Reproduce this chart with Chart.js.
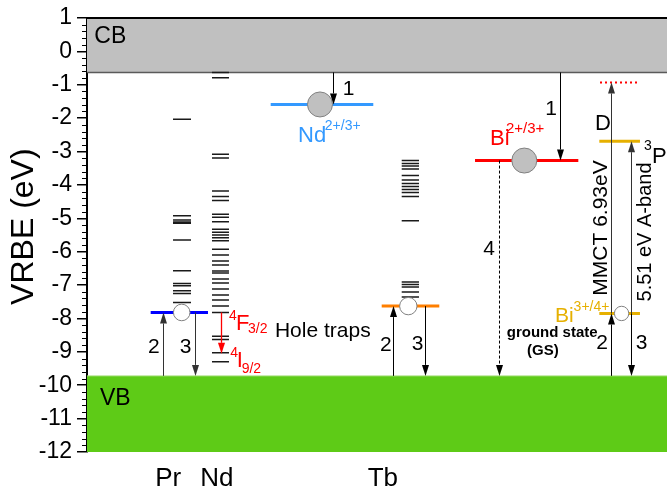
<!DOCTYPE html>
<html><head><meta charset="utf-8">
<script src="https://cdn.jsdelivr.net/npm/chart.js@4.4.0/dist/chart.umd.min.js"></script>
<style>html,body{margin:0;padding:0;background:#fff}canvas{display:block}</style>
</head><body>
<canvas id="c" width="667" height="491"></canvas>
<script>
const FONT = '"Liberation Sans", Arial, sans-serif';

// ---- data (eV) ----
const Y_MIN = -12, Y_MAX = 1;
const CB_BOTTOM = -0.63;
const VB_TOP = -9.72;

const xLabels = ['Pr', 'Nd', 'Tb'];
const xLabelPos = [14.0, 22.4, 51.0];

const prLevels = [-2.03, -4.92, -5.05, -5.11, -5.15, -5.65, -6.57, -6.95, -7.02, -7.17, -7.25, -7.52];
const ndLevels = [-0.63, -0.79, -3.08, -3.19, -4.18, -4.35, -4.47, -4.88, -4.97, -5.10, -5.33, -5.42,
                  -5.50, -5.58, -5.67, -5.93, -6.10, -6.28, -6.40, -6.58, -6.64, -6.82, -6.94, -7.12,
                  -7.30, -7.45, -7.63, -7.82, -8.53, -8.63, -9.03, -9.30];
const tbLevels = [-3.27, -3.36, -3.43, -3.52, -3.72, -3.85, -3.96, -4.05, -4.14, -4.23, -4.35, -5.07,
                  -6.91, -6.98, -7.06, -7.21, -7.36];

const prGround = -7.82;
const ndLevel23 = -1.59;
const tbGround = -7.63;
const biLevel23 = -3.27;
const biLevel34 = -7.85;
const bi3P1 = -2.69;
const biD = -0.93;
const nd4F32 = -7.82;
const nd4I92 = -9.06;

// ---- column placement on the (hidden) x scale ----
const X_MIN = 0, X_MAX = 100;
const cols = {
  prStack: [14.83, 17.93], ndStack: [21.55, 24.48], tbStack: [54.26, 57.24],
  prLine: [10.98, 20.86], ndLine: [31.67, 49.36], tbLine: [50.81, 60.74],
  biLine23: [66.9, 84.71], biLine34: [88.33, 95.34], dLine: [88.45, 95.17]
};

function stackData(levels, span) {
  const d = [];
  levels.forEach(v => { d.push({x: span[0], y: v}, {x: span[1], y: v}, {x: span[1], y: null}); });
  return d;
}
function seg(span, v) { return [{x: span[0], y: v}, {x: span[1], y: v}]; }

const arrows = [
  {x: 13.05, from: VB_TOP, to: prGround, color: '#333'},
  {x: 18.67, from: prGround, to: VB_TOP, color: '#333'},
  {x: 23.03, from: nd4F32, to: nd4I92, color: '#ff0000', w: 1.3},
  {x: 42.47, from: CB_BOTTOM, to: ndLevel23, color: '#000'},
  {x: 52.81, from: VB_TOP, to: tbGround, color: '#000'},
  {x: 58.28, from: tbGround, to: VB_TOP, color: '#000'},
  {x: 81.55, from: CB_BOTTOM, to: biLevel23, color: '#000'},
  {x: 71.03, from: biLevel23, to: VB_TOP, color: '#000', dash: [3, 2]},
  {x: 90.4, from: VB_TOP, to: biLevel34, color: '#000'},
  {x: 90.4, from: biLevel34, to: biD, color: '#333'},
  {x: 93.79, from: biLevel34, to: bi3P1, color: '#333'},
  {x: 93.79, from: biLevel34, to: VB_TOP, color: '#000'}
];

const texts = [
  {t: 'CB', x: 1.26, y: 0.25, size: 23},
  {t: 'VB', x: 2.24, y: -10.59, size: 23},
  {t: '1', x: 44.1, y: -1.31, size: 21},
  {t: '1', x: 79.0, y: -1.91, size: 21},
  {t: 'Nd', x: 36.4, y: -2.71, size: 22, color: '#3399ff'},
  {t: '2+/3+', x: 41.0, y: -2.36, size: 14, color: '#3399ff'},
  {t: 'Bi', x: 69.5, y: -2.80, size: 22, color: '#ff0000'},
  {t: '2+/3+', x: 72.24, y: -2.445, size: 15, color: '#ff0000'},
  {t: 'Bi', x: 80.69, y: -8.10, size: 21, color: '#e6b000'},
  {t: '3+/4+', x: 83.9, y: -7.77, size: 14, color: '#e6b000'},
  {t: '3', x: 96.03, y: -2.95, size: 14},
  {t: 'P', x: 97.41, y: -3.34, size: 22},
  {t: '1', x: 99.95, y: -3.55, size: 14},
  {t: 'D', x: 87.6, y: -2.36, size: 22},
  {t: '4', x: 68.3, y: -6.10, size: 21},
  {t: '2', x: 10.5, y: -9.03, size: 21},
  {t: '3', x: 16.0, y: -9.03, size: 21},
  {t: '2', x: 50.5, y: -8.97, size: 21},
  {t: '3', x: 56.0, y: -8.95, size: 21},
  {t: '2', x: 87.8, y: -8.90, size: 21},
  {t: '3', x: 94.6, y: -8.90, size: 21},
  {t: 'Hole traps', x: 32.4, y: -8.55, size: 21},
  {t: 'ground state', x: 80.2, y: -8.56, size: 15, bold: true, align: 'center'},
  {t: '(GS)', x: 78.6, y: -9.10, size: 15, bold: true, align: 'center'},
  {t: '4', x: 24.5, y: -8.05, size: 14, color: '#ff0000'},
  {t: 'F', x: 25.7, y: -8.35, size: 22, color: '#ff0000'},
  {t: '3/2', x: 27.76, y: -8.45, size: 14, color: '#ff0000'},
  {t: '4', x: 24.7, y: -9.15, size: 14, color: '#ff0000'},
  {t: 'I', x: 25.8, y: -9.45, size: 22, color: '#ff0000'},
  {t: '9/2', x: 26.67, y: -9.64, size: 14, color: '#ff0000'},
  {t: 'MMCT 6.93eV', x: 89.6, y: -5.29, size: 21, rot: true},
  {t: '5.51 eV A-band', x: 97.2, y: -5.41, size: 20, rot: true}
];
const yTitle = 'VRBE (eV)';

function drawArrow(ctx, px, y0, y1, color, w, dash) {
  const dir = Math.sign(y1 - y0), hl = 11, hw = 3.5;
  ctx.strokeStyle = color; ctx.fillStyle = color; ctx.lineWidth = w || 1;
  ctx.setLineDash(dash || []);
  ctx.beginPath(); ctx.moveTo(px, y0); ctx.lineTo(px, y1 - dir * hl); ctx.stroke();
  ctx.setLineDash([]);
  ctx.beginPath(); ctx.moveTo(px, y1); ctx.lineTo(px - hw, y1 - dir * hl); ctx.lineTo(px + hw, y1 - dir * hl);
  ctx.closePath(); ctx.fill();
}

const overlay = {
  id: 'overlay',
  afterDatasetsDraw(chart) {
    const {ctx, chartArea: a, scales: {x, y}} = chart;
    const X = v => x.getPixelForValue(v), Y = v => y.getPixelForValue(v);
    ctx.save();
    // top frame
    ctx.strokeStyle = '#000'; ctx.lineWidth = 2;
    ctx.beginPath(); ctx.moveTo(a.left - 1, a.top); ctx.lineTo(a.right, a.top); ctx.stroke();
    // minor ticks
    ctx.lineWidth = 1;
    for (let i = 0; i <= (Y_MAX - Y_MIN) * 5; i++) {
      if (i % 5 === 0) continue;
      const py = Math.round(Y(Y_MIN + i * 0.2)) + 0.5;
      ctx.beginPath(); ctx.moveTo(a.left - 5, py); ctx.lineTo(a.left, py); ctx.stroke();
    }
    // arrows
    arrows.forEach(ar => drawArrow(ctx, Math.round(X(ar.x)) + 0.5, Y(ar.from), Y(ar.to), ar.color, ar.w, ar.dash));
    // texts
    texts.forEach(o => {
      ctx.font = (o.bold ? 'bold ' : '') + o.size + 'px ' + FONT;
      ctx.fillStyle = o.color || '#000';
      ctx.textBaseline = 'alphabetic';
      if (o.rot) {
        ctx.save(); ctx.translate(X(o.x), Y(o.y)); ctx.rotate(-Math.PI / 2);
        ctx.textAlign = 'center'; ctx.fillText(o.t, 0, 0); ctx.restore();
      } else {
        ctx.textAlign = o.align || 'left';
        ctx.fillText(o.t, X(o.x), Y(o.y));
      }
    });
    // y title
    ctx.font = '32px ' + FONT; ctx.fillStyle = '#000';
    ctx.save(); ctx.translate(a.left - 54, Y(-5.25)); ctx.rotate(-Math.PI / 2);
    ctx.textAlign = 'center'; ctx.textBaseline = 'alphabetic'; ctx.fillText(yTitle, 0, 0); ctx.restore();
    ctx.restore();
  }
};

const stackStyle = {type: 'line', borderColor: '#1a1a1a', borderWidth: 1.5, pointRadius: 0, fill: false, spanGaps: false, order: 5};
const levelStyle = (c, w) => ({type: 'line', borderColor: c, borderWidth: w || 3, pointRadius: 0, fill: false, order: 3});

new Chart(document.getElementById('c'), {
  type: 'scatter',
  data: {
    datasets: [
      {type: 'line', label: 'CB', data: [{x: X_MIN, y: Y_MAX}, {x: X_MAX, y: Y_MAX}], fill: {value: CB_BOTTOM},
       backgroundColor: '#c0c0c0', borderWidth: 0, pointRadius: 0, order: 10},
      {type: 'line', label: 'CB edge', data: [{x: X_MIN, y: CB_BOTTOM}, {x: X_MAX, y: CB_BOTTOM}],
       borderColor: '#5a5a5a', borderWidth: 1.5, pointRadius: 0, fill: false, order: 9},
      {type: 'line', label: 'VB', data: [{x: X_MIN, y: VB_TOP}, {x: X_MAX, y: VB_TOP}], fill: 'start',
       backgroundColor: '#5ecb17', borderColor: '#a8e07e', borderWidth: 1, pointRadius: 0, order: 10},
      Object.assign({label: 'Pr', data: stackData(prLevels, cols.prStack)}, stackStyle),
      Object.assign({label: 'Nd', data: stackData(ndLevels, cols.ndStack)}, stackStyle),
      Object.assign({label: 'Tb', data: stackData(tbLevels, cols.tbStack)}, stackStyle),
      Object.assign({label: 'Pr GS', data: seg(cols.prLine, prGround)}, levelStyle('#0000ff')),
      Object.assign({label: 'Nd2+/3+', data: seg(cols.ndLine, ndLevel23)}, levelStyle('#3399ff')),
      Object.assign({label: 'Tb GS', data: seg(cols.tbLine, tbGround)}, levelStyle('#ff7f00')),
      Object.assign({label: 'Bi2+/3+', data: seg(cols.biLine23, biLevel23)}, levelStyle('#ff0000')),
      Object.assign({label: 'Bi3+/4+', data: seg(cols.biLine34, biLevel34)}, levelStyle('#e6b000')),
      Object.assign({label: '3P1', data: seg(cols.biLine34, bi3P1)}, levelStyle('#e6b000')),
      Object.assign({label: 'D', data: seg(cols.dLine, biD), borderDash: [2, 3]}, levelStyle('#ff0000', 2)),
      {type: 'scatter', label: 'electrons', data: [{x: 40.17, y: ndLevel23}, {x: 75.40, y: biLevel23}],
       pointRadius: 12.5, pointBackgroundColor: '#c0c0c0', pointBorderColor: '#808080', pointBorderWidth: 1, order: 1},
      {type: 'scatter', label: 'holes', data: [{x: 16.33, y: prGround}, {x: 55.40, y: tbGround}, {x: 92.17, y: biLevel34}],
       pointRadius: [8.3, 8.7, 7.2], pointBackgroundColor: '#ffffff', pointBorderColor: '#808080', pointBorderWidth: 1, order: 1}
    ]
  },
  options: {
    responsive: false, animation: false, devicePixelRatio: 1,
    layout: {autoPadding: false, padding: {top: 18, right: 0, left: 0, bottom: 0}},
    plugins: {legend: {display: false}, tooltip: {enabled: false}},
    scales: {
      x: {
        type: 'linear', min: X_MIN, max: X_MAX,
        afterBuildTicks: s => { s.ticks = xLabelPos.map(v => ({value: v})); },
        afterFit: s => { s.height = 39; s.paddingLeft = 0; s.paddingRight = 0; },
        grid: {display: false}, border: {display: false},
        ticks: {autoSkip: false, maxRotation: 0, padding: 3, color: '#000', font: {family: FONT, size: 26},
                callback: (v, i) => xLabels[i]}
      },
      y: {
        min: Y_MIN, max: Y_MAX,
        afterFit: s => { s.width = 87; s.paddingTop = 0; s.paddingBottom = 0; },
        grid: {drawOnChartArea: false, drawTicks: true, tickLength: 10, tickColor: '#000', lineWidth: 1.5},
        border: {display: true, color: '#000', width: 2},
        ticks: {stepSize: 1, padding: 5, color: '#000', font: {family: FONT, size: 23}}
      }
    }
  },
  plugins: [overlay]
});
</script>
</body></html>
